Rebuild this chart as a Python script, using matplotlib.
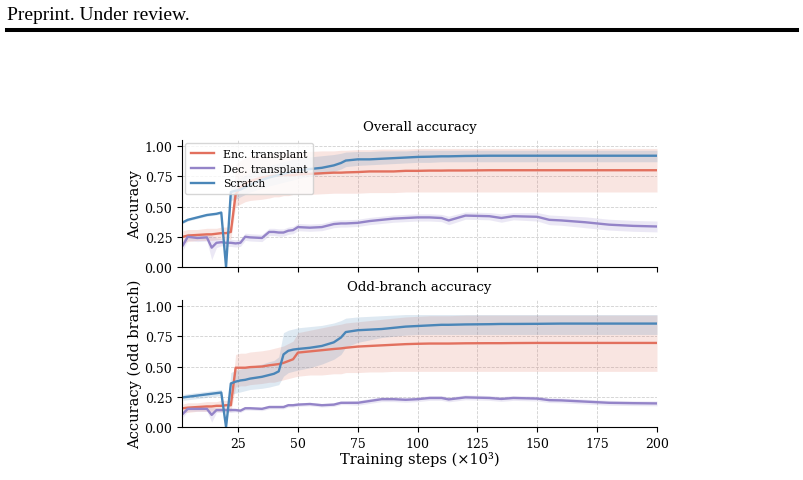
import matplotlib
matplotlib.use('Agg')
import matplotlib.pyplot as plt
from matplotlib.lines import Line2D

# training steps (x10^3) at which evaluations are plotted
steps = [2, 4, 8, 12, 14, 16, 18, 20, 22, 24, 26, 28, 30, 35, 38, 40, 42, 44, 46, 48,
         50, 55, 60, 65, 68, 70, 75, 80, 85, 90, 95, 100, 105, 110, 113, 120, 130, 135,
         140, 150, 155, 160, 170, 180, 190, 200]

# ---- Overall accuracy ----
enc_all = [0.25, 0.26, 0.265, 0.27, 0.27, 0.275, 0.28, 0.28, 0.29, 0.60, 0.66, 0.69, 0.71, 0.74, 0.75, 0.755, 0.755, 0.76, 0.76, 0.76,
           0.765, 0.77, 0.775, 0.78, 0.78, 0.782, 0.785, 0.79, 0.79, 0.79, 0.795, 0.795, 0.797, 0.797, 0.798, 0.798, 0.80, 0.80,
           0.80, 0.80, 0.80, 0.80, 0.80, 0.80, 0.80, 0.80]
enc_all_lo = [0.20, 0.21, 0.22, 0.22, 0.22, 0.225, 0.23, 0.23, 0.23, 0.50, 0.52, 0.54, 0.55, 0.56, 0.57, 0.58, 0.58, 0.59, 0.59, 0.60,
              0.60, 0.60, 0.605, 0.61, 0.61, 0.61, 0.61, 0.615, 0.615, 0.615, 0.62, 0.62, 0.62, 0.62, 0.62, 0.62, 0.62, 0.62,
              0.62, 0.62, 0.62, 0.62, 0.62, 0.62, 0.62, 0.62]
enc_all_hi = [0.30, 0.31, 0.31, 0.32, 0.32, 0.32, 0.33, 0.33, 0.34, 0.85, 0.88, 0.90, 0.92, 0.93, 0.94, 0.94, 0.94, 0.945, 0.945, 0.95,
              0.95, 0.955, 0.96, 0.96, 0.965, 0.965, 0.97, 0.97, 0.975, 0.975, 0.975, 0.98, 0.98, 0.98, 0.98, 0.98, 0.98, 0.98,
              0.98, 0.98, 0.98, 0.98, 0.98, 0.98, 0.98, 0.98]

dec_all = [0.18, 0.25, 0.24, 0.245, 0.16, 0.20, 0.205, 0.20, 0.20, 0.195, 0.20, 0.25, 0.245, 0.24, 0.29, 0.29, 0.285, 0.285, 0.30, 0.305,
           0.33, 0.325, 0.33, 0.355, 0.36, 0.36, 0.365, 0.38, 0.39, 0.40, 0.405, 0.41, 0.41, 0.405, 0.385, 0.425, 0.42, 0.405,
           0.42, 0.415, 0.39, 0.385, 0.37, 0.35, 0.34, 0.335]
dec_all_sd = [0.04, 0.03, 0.03, 0.03, 0.10, 0.04, 0.03, 0.03, 0.03, 0.03, 0.03, 0.03, 0.03, 0.03, 0.03, 0.03, 0.03, 0.03, 0.03, 0.03,
              0.03, 0.03, 0.03, 0.03, 0.03, 0.03, 0.03, 0.03, 0.03, 0.03, 0.03, 0.03, 0.03, 0.03, 0.035, 0.03, 0.03, 0.035,
              0.03, 0.035, 0.04, 0.04, 0.045, 0.045, 0.045, 0.045]

scr_all = [0.37, 0.39, 0.41, 0.43, 0.435, 0.44, 0.45, 0.0, 0.62, 0.63, 0.64, 0.66, 0.68, 0.72, 0.74, 0.75, 0.76, 0.77, 0.78, 0.79,
           0.80, 0.81, 0.82, 0.84, 0.86, 0.88, 0.89, 0.89, 0.895, 0.90, 0.905, 0.91, 0.912, 0.915, 0.915, 0.918, 0.92, 0.92,
           0.92, 0.92, 0.92, 0.92, 0.92, 0.92, 0.92, 0.92]
scr_all_lo = [0.36, 0.38, 0.40, 0.42, 0.425, 0.43, 0.44, 0.0, 0.55, 0.56, 0.58, 0.60, 0.62, 0.65, 0.67, 0.68, 0.69, 0.70, 0.71, 0.72,
              0.73, 0.75, 0.77, 0.79, 0.81, 0.83, 0.84, 0.845, 0.85, 0.855, 0.86, 0.865, 0.865, 0.87, 0.87, 0.87, 0.87, 0.87,
              0.87, 0.87, 0.87, 0.87, 0.87, 0.87, 0.87, 0.87]
scr_all_hi = [0.38, 0.40, 0.42, 0.44, 0.445, 0.45, 0.46, 0.0, 0.70, 0.72, 0.74, 0.76, 0.78, 0.82, 0.84, 0.85, 0.86, 0.87, 0.88, 0.89,
              0.90, 0.91, 0.92, 0.93, 0.94, 0.95, 0.955, 0.955, 0.96, 0.96, 0.96, 0.965, 0.965, 0.965, 0.965, 0.965, 0.965, 0.965,
              0.965, 0.965, 0.965, 0.965, 0.965, 0.965, 0.965, 0.965]

# ---- Odd-branch accuracy ----
enc_odd = [0.155, 0.16, 0.165, 0.17, 0.17, 0.175, 0.175, 0.18, 0.18, 0.49, 0.49, 0.49, 0.495, 0.50, 0.51, 0.515, 0.52, 0.53, 0.545, 0.56,
           0.615, 0.625, 0.635, 0.645, 0.65, 0.655, 0.665, 0.67, 0.675, 0.68, 0.685, 0.688, 0.69, 0.69, 0.69, 0.692, 0.693, 0.693,
           0.694, 0.695, 0.695, 0.695, 0.695, 0.695, 0.695, 0.695]
enc_odd_lo = [0.12, 0.12, 0.13, 0.13, 0.13, 0.13, 0.13, 0.13, 0.13, 0.33, 0.34, 0.34, 0.35, 0.36, 0.37, 0.37, 0.38, 0.39, 0.40, 0.41,
              0.42, 0.43, 0.43, 0.44, 0.44, 0.45, 0.45, 0.455, 0.455, 0.46, 0.46, 0.46, 0.46, 0.46, 0.46, 0.46, 0.46, 0.46,
              0.46, 0.46, 0.46, 0.46, 0.46, 0.46, 0.46, 0.46]
enc_odd_hi = [0.19, 0.20, 0.20, 0.21, 0.21, 0.21, 0.22, 0.22, 0.22, 0.60, 0.61, 0.61, 0.62, 0.63, 0.64, 0.65, 0.66, 0.67, 0.69, 0.71,
              0.78, 0.80, 0.82, 0.84, 0.85, 0.86, 0.87, 0.88, 0.89, 0.90, 0.91, 0.915, 0.92, 0.92, 0.92, 0.925, 0.925, 0.925,
              0.925, 0.925, 0.925, 0.925, 0.925, 0.925, 0.925, 0.925]

dec_odd = [0.11, 0.15, 0.15, 0.15, 0.10, 0.14, 0.14, 0.14, 0.14, 0.14, 0.135, 0.155, 0.155, 0.15, 0.165, 0.165, 0.165, 0.165, 0.18, 0.18,
           0.185, 0.19, 0.18, 0.185, 0.20, 0.20, 0.20, 0.215, 0.23, 0.23, 0.225, 0.23, 0.24, 0.24, 0.228, 0.245, 0.24, 0.232,
           0.24, 0.235, 0.222, 0.22, 0.21, 0.20, 0.197, 0.195]
dec_odd_sd = [0.03, 0.02, 0.02, 0.02, 0.06, 0.02, 0.02, 0.02, 0.02, 0.015, 0.015, 0.015, 0.015, 0.015, 0.015, 0.015, 0.015, 0.015, 0.015, 0.015,
              0.015, 0.015, 0.015, 0.015, 0.015, 0.015, 0.02, 0.02, 0.02, 0.02, 0.02, 0.02, 0.02, 0.02, 0.02, 0.02, 0.02, 0.02,
              0.02, 0.02, 0.02, 0.02, 0.02, 0.02, 0.02, 0.02]

scr_odd = [0.245, 0.25, 0.26, 0.27, 0.275, 0.28, 0.285, 0.0, 0.36, 0.375, 0.385, 0.39, 0.40, 0.415, 0.43, 0.44, 0.46, 0.60, 0.63, 0.64,
           0.645, 0.655, 0.67, 0.70, 0.74, 0.785, 0.80, 0.805, 0.81, 0.82, 0.83, 0.835, 0.84, 0.845, 0.845, 0.848, 0.85, 0.852,
           0.852, 0.853, 0.854, 0.855, 0.855, 0.855, 0.855, 0.855]
scr_odd_lo = [0.22, 0.225, 0.235, 0.245, 0.25, 0.255, 0.26, 0.0, 0.27, 0.28, 0.29, 0.30, 0.31, 0.32, 0.33, 0.34, 0.35, 0.42, 0.45, 0.46,
              0.47, 0.49, 0.52, 0.56, 0.60, 0.66, 0.70, 0.72, 0.74, 0.75, 0.76, 0.765, 0.765, 0.765, 0.765, 0.765, 0.765, 0.765,
              0.765, 0.765, 0.765, 0.765, 0.765, 0.765, 0.765, 0.765]
scr_odd_hi = [0.27, 0.275, 0.285, 0.295, 0.30, 0.305, 0.31, 0.0, 0.45, 0.47, 0.48, 0.49, 0.50, 0.52, 0.54, 0.55, 0.58, 0.78, 0.80, 0.81,
              0.82, 0.83, 0.84, 0.86, 0.88, 0.90, 0.91, 0.915, 0.92, 0.925, 0.93, 0.93, 0.93, 0.93, 0.93, 0.93, 0.93, 0.93,
              0.93, 0.93, 0.93, 0.93, 0.93, 0.93, 0.93, 0.93]

c_enc = '#e2705e'
c_dec = '#9484c8'
c_scr = '#4a86b8'

plt.rcParams['font.family'] = 'DejaVu Serif'

fig = plt.figure(figsize=(8.04, 4.81), dpi=100)

# page header of the paper
fig.text(7 / 804, 1 - 20 / 481, 'Preprint. Under review.', fontsize=14,
         family='Liberation Serif', va='baseline', ha='left')
fig.add_artist(Line2D([7 / 804, 797 / 804], [1 - 30.5 / 481, 1 - 30.5 / 481],
                      color='black', linewidth=2.9, transform=fig.transFigure))

ax1 = fig.add_axes([182 / 804, 1 - 268 / 481, 475 / 804, 127 / 481])
ax2 = fig.add_axes([182 / 804, 1 - 428 / 481, 475 / 804, 127 / 481], sharex=ax1)


def band(ax, lo, hi, c):
    ax.fill_between(steps, lo, hi, color=c, alpha=0.18, linewidth=0)


band(ax1, enc_all_lo, enc_all_hi, c_enc)
band(ax1, [m - s for m, s in zip(dec_all, dec_all_sd)], [m + s for m, s in zip(dec_all, dec_all_sd)], c_dec)
band(ax1, scr_all_lo, scr_all_hi, c_scr)
ax1.plot(steps, enc_all, color=c_enc, lw=1.7, label='Enc. transplant')
ax1.plot(steps, dec_all, color=c_dec, lw=1.7, label='Dec. transplant')
ax1.plot(steps, scr_all, color=c_scr, lw=1.7, label='Scratch')

band(ax2, enc_odd_lo, enc_odd_hi, c_enc)
band(ax2, [m - s for m, s in zip(dec_odd, dec_odd_sd)], [m + s for m, s in zip(dec_odd, dec_odd_sd)], c_dec)
band(ax2, scr_odd_lo, scr_odd_hi, c_scr)
ax2.plot(steps, enc_odd, color=c_enc, lw=1.7)
ax2.plot(steps, dec_odd, color=c_dec, lw=1.7)
ax2.plot(steps, scr_odd, color=c_scr, lw=1.7)

for ax in (ax1, ax2):
    ax.set_xlim(1.6, 200)
    ax.set_ylim(0, 1.05)
    ax.set_yticks([0, 0.25, 0.5, 0.75, 1.0])
    ax.set_xticks([25, 50, 75, 100, 125, 150, 175, 200])
    ax.grid(True, linestyle='--', linewidth=0.6, color='#d0d0d0')
    ax.set_axisbelow(True)
    ax.spines['top'].set_visible(False)
    ax.spines['right'].set_visible(False)
    ax.tick_params(labelsize=9)

ax1.tick_params(labelbottom=False)
ax1.set_title('Overall accuracy', fontsize=9.5, pad=7)
ax2.set_title('Odd-branch accuracy', fontsize=9.5, pad=7)
ax1.set_ylabel('Accuracy', fontsize=10.5, labelpad=2)
ax2.set_ylabel('Accuracy (odd branch)', fontsize=10.5, labelpad=2)
ax2.set_xlabel('Training steps (×10³)', fontsize=10.5, labelpad=1)
ax1.legend(loc='upper left', fontsize=7.8, framealpha=0.8, borderaxespad=0.3,
           handlelength=2.2, labelspacing=0.45, borderpad=0.5)

plt.savefig('out.png', dpi=100)
plt.close()
